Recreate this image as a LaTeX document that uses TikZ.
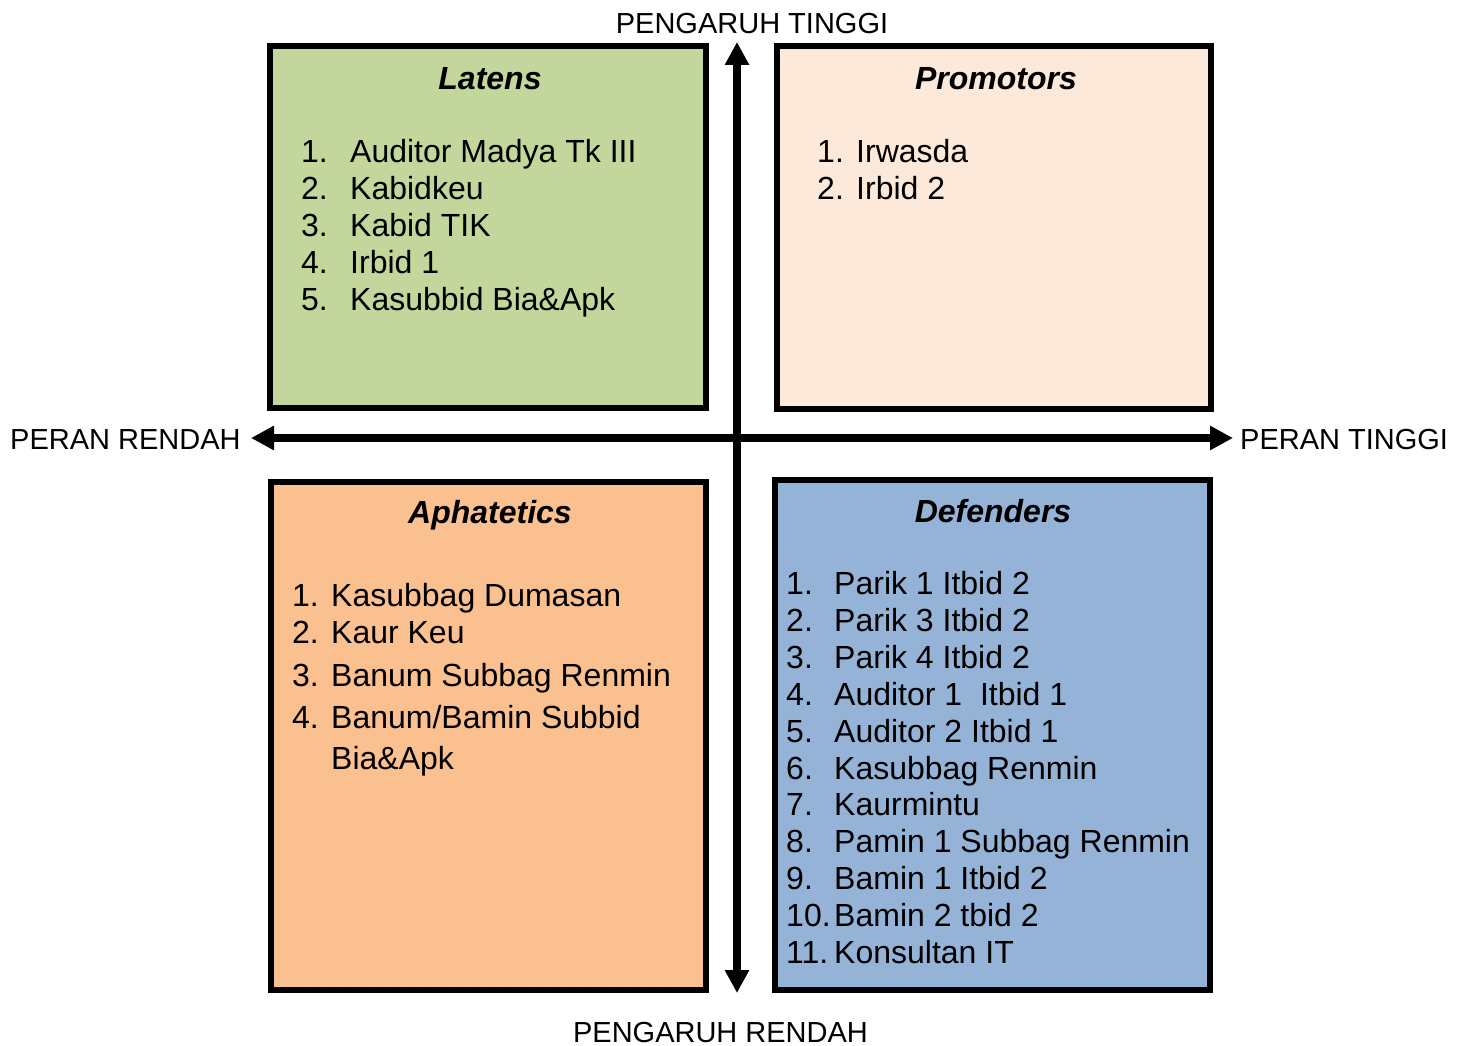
\documentclass[tikz,border=0pt]{standalone}
\usepackage{fontspec}
\setmainfont{Liberation Sans}
\usetikzlibrary{arrows.meta}
\definecolor{latensc}{HTML}{C3D69B}
\definecolor{promoc}{HTML}{FDE9D9}
\definecolor{aphac}{HTML}{FAC090}
\definecolor{defc}{HTML}{95B3D7}
\tikzset{
  quad/.style={draw=black, line width=6pt, inner sep=0pt, outer sep=0pt},
  axislbl/.style={font=\fontsize{29}{33}\selectfont, inner sep=0pt},
  itm/.style={font=\fontsize{32}{37}\selectfont, inner sep=0pt, anchor=base west},
  ttl/.style={font=\fontsize{32}{37}\selectfont\bfseries\itshape, inner sep=0pt, anchor=base},
  axisarrow/.style={line width=8pt, {Triangle[length=23pt,width=23pt]}-{Triangle[length=23pt,width=23pt]}}
}
\begin{document}
\begin{tikzpicture}[x=1pt,y=-1pt]
\useasboundingbox (0,0) rectangle (1459,1046);
% quadrant boxes
\node[quad, fill=latensc, minimum width=436pt, minimum height=361.5pt] (latens) at (488,227.25) {};
\node[quad, fill=promoc, minimum width=434pt, minimum height=362.5pt] (promo) at (994,227.75) {};
\node[quad, fill=aphac, minimum width=435.5pt, minimum height=508.5pt] (apha) at (488.25,735.75) {};
\node[quad, fill=defc, minimum width=435.5pt, minimum height=510pt] (def) at (992.25,735) {};
% axes
\coordinate (top) at (737,42);
\coordinate (bot) at (737,993);
\coordinate (lft) at (251,438);
\coordinate (rgt) at (1233,438);
\draw[axisarrow] (lft) -- (rgt);
\draw[axisarrow] (bot) -- (top);
% axis labels
\node[axislbl, anchor=base] (ph) at (752,34) {PENGARUH TINGGI};
\node[axislbl, anchor=base] (pr) at (720.5,1042) {PENGARUH RENDAH};
\node[axislbl, anchor=base west] (rr) at (10,449) {PERAN RENDAH};
\node[axislbl, anchor=base west] (rt) at (1240,449) {PERAN TINGGI};
% Latens
\node[ttl] (t1) at (490,90) {Latens};
\node[itm] (l1n) at (301,162) {1.}; \node[itm] (l1t) at (350,162) {Auditor Madya Tk III};
\node[itm] (l2n) at (301,199) {2.}; \node[itm] (l2t) at (350,199) {Kabidkeu};
\node[itm] (l3n) at (301,236) {3.}; \node[itm] (l3t) at (350,236) {Kabid TIK};
\node[itm] (l4n) at (301,273) {4.}; \node[itm] (l4t) at (350,273) {Irbid 1};
\node[itm] (l5n) at (301,310) {5.}; \node[itm] (l5t) at (350,310) {Kasubbid Bia\&Apk};
% Promotors
\node[ttl] (t2) at (996,90) {Promotors};
\node[itm] (p1n) at (817,162) {1.}; \node[itm] (p1t) at (856,162) {Irwasda};
\node[itm] (p2n) at (817,199) {2.}; \node[itm] (p2t) at (856,199) {Irbid 2};
% Aphatetics
\node[ttl] (t3) at (490,523) {Aphatetics};
\node[itm] (a1n) at (292,606) {1.}; \node[itm] (a1t) at (331,606) {Kasubbag Dumasan};
\node[itm] (a2n) at (292,643) {2.}; \node[itm] (a2t) at (331,643) {Kaur Keu};
\node[itm] (a3n) at (292,686) {3.}; \node[itm] (a3t) at (331,686) {Banum Subbag Renmin};
\node[itm] (a4n) at (292,728) {4.}; \node[itm] (a4t) at (331,728) {Banum/Bamin Subbid};
\node[itm] (a5t) at (331,769) {Bia\&Apk};
% Defenders
\node[ttl] (t4) at (993,522) {Defenders};
\node[itm] (d1n) at (786,594.5) {1.}; \node[itm] (d1t) at (834,594.5) {Parik 1 Itbid 2};
\node[itm] (d2n) at (786,631.4) {2.}; \node[itm] (d2t) at (834,631.4) {Parik 3 Itbid 2};
\node[itm] (d3n) at (786,668.3) {3.}; \node[itm] (d3t) at (834,668.3) {Parik 4 Itbid 2};
\node[itm] (d4n) at (786,705.2) {4.}; \node[itm] (d4t) at (834,705.2) {Auditor 1\ \ Itbid 1};
\node[itm] (d5n) at (786,742.1) {5.}; \node[itm] (d5t) at (834,742.1) {Auditor 2 Itbid 1};
\node[itm] (d6n) at (786,779.0) {6.}; \node[itm] (d6t) at (834,779.0) {Kasubbag Renmin};
\node[itm] (d7n) at (786,815.9) {7.}; \node[itm] (d7t) at (834,815.9) {Kaurmintu};
\node[itm] (d8n) at (786,852.8) {8.}; \node[itm] (d8t) at (834,852.8) {Pamin 1 Subbag Renmin};
\node[itm] (d9n) at (786,889.7) {9.}; \node[itm] (d9t) at (834,889.7) {Bamin 1 Itbid 2};
\node[itm] (d10n) at (786,926.6) {10.}; \node[itm] (d10t) at (834,926.6) {Bamin 2 tbid 2};
\node[itm] (d11n) at (786,963.5) {11.}; \node[itm] (d11t) at (834,963.5) {Konsultan IT};
\end{tikzpicture}
\end{document}
